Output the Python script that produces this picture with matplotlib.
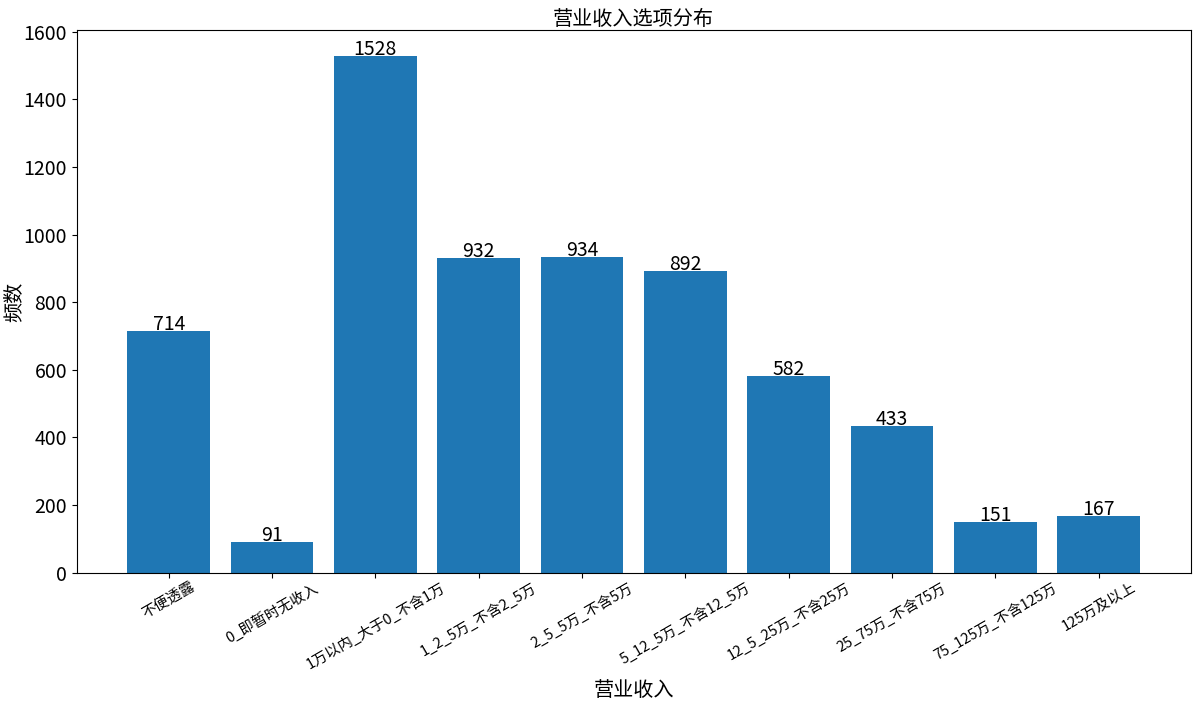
import matplotlib
matplotlib.use('Agg')
import matplotlib.pyplot as plt

plt.rcParams['font.family'] = ['Noto Sans CJK SC', 'DejaVu Sans']
plt.rcParams['axes.unicode_minus'] = False

# 营业收入各选项的频数
categories = ['不便透露', '0_即暂时无收入', '1万以内_大于0_不含1万', '1_2_5万_不含2_5万',
              '2_5_5万_不含5万', '5_12_5万_不含12_5万', '12_5_25万_不含25万',
              '25_75万_不含75万', '75_125万_不含125万', '125万及以上']
counts = [714, 91, 1528, 932, 934, 892, 582, 433, 151, 167]

fig, ax = plt.subplots(figsize=(11.99, 7.01), dpi=100)
fig.subplots_adjust(left=0.064, right=0.993, top=0.957, bottom=0.183)

bars = ax.bar(categories, counts, color='#1f77b4')
ax.bar_label(bars, fontsize=14, padding=-3)

ax.set_title('营业收入选项分布', fontsize=14.5, pad=1)
ax.set_xlabel('营业收入', fontsize=14.5)
ax.set_ylabel('频数', fontsize=14.5)
# Noto 字体行高较大，手动放置轴标签
ax.xaxis.set_label_coords(0.5, -0.197)
ax.yaxis.set_label_coords(-0.047, 0.5)
ax.tick_params(axis='y', labelsize=14)
ax.tick_params(axis='x', labelsize=10.5, pad=2)
plt.setp(ax.get_xticklabels(), rotation=30)

fig.savefig('out.png', dpi=100)
